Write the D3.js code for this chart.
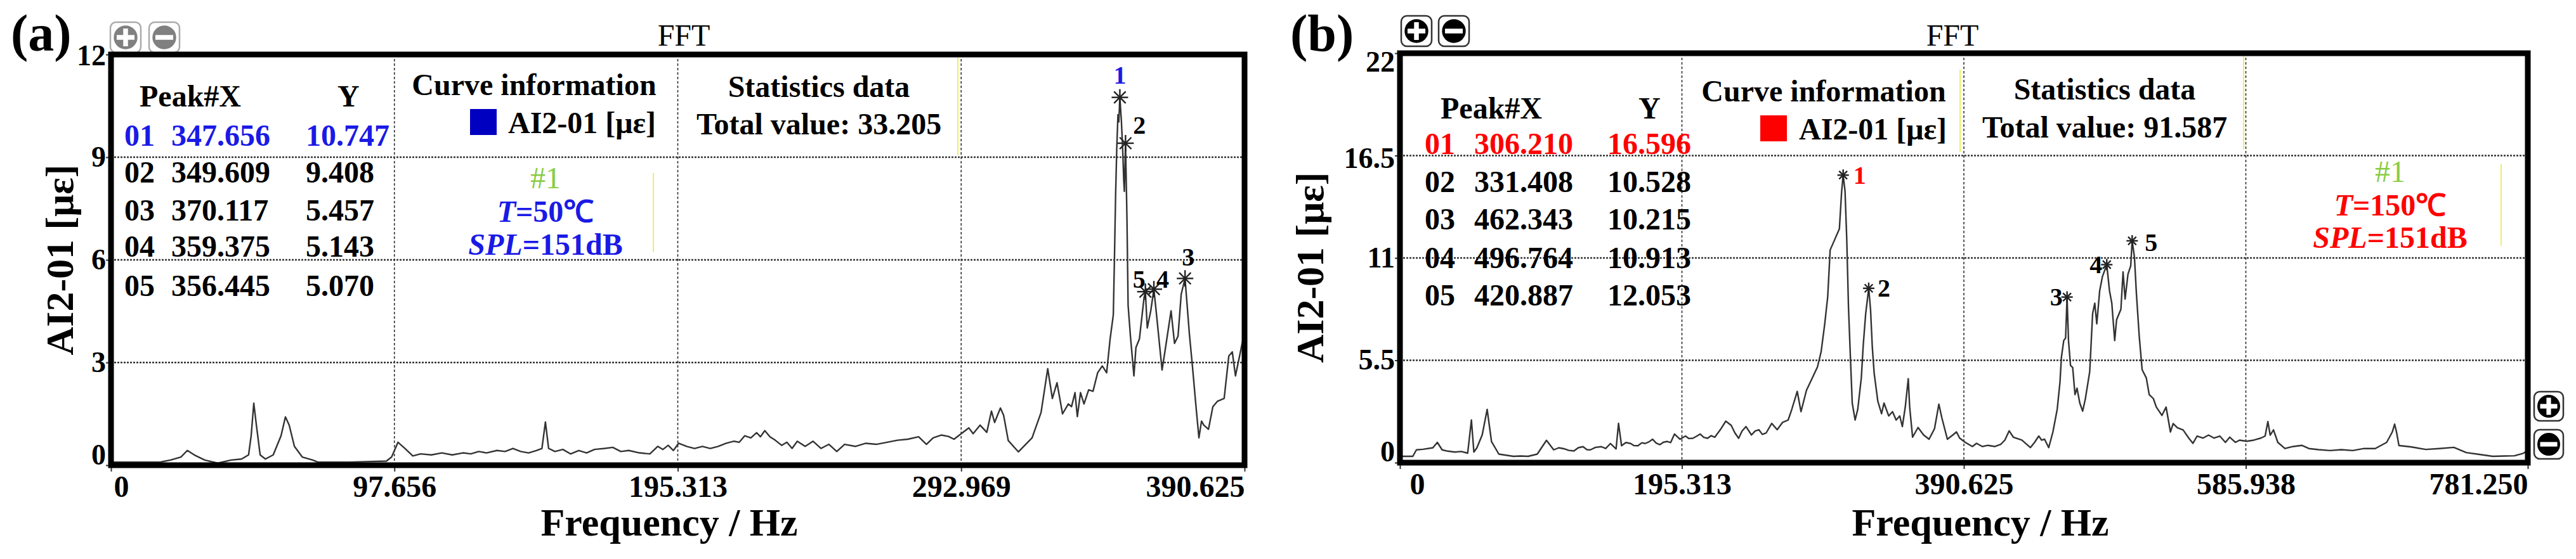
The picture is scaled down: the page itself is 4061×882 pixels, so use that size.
<!DOCTYPE html>
<html>
<head>
<meta charset="utf-8">
<script src="https://cdn.jsdelivr.net/npm/d3@7/dist/d3.min.js"></script>
<style>
  body { margin: 0; background: #fff; }
  svg text { font-family: "Liberation Serif", "Times New Roman", serif; }
</style>
</head>
<body>
<svg id="chart" width="4061" height="882"></svg>
<script>
// ---- data ----
const xTicksA = [0, 97.656, 195.313, 292.969, 390.625];
const xTicksB = [0, 195.313, 390.625, 585.938, 781.250];
const yTicksA = [0, 3, 6, 9, 12];
const yTicksB = [0, 5.5, 11, 16.5, 22];

// spectrum (a), T = 50 C : [Hz, με]
const spectrumA = [[0,0.09],[8,0.09],[16.9,0.09],[20.5,0.15],[24.1,0.24],[26.3,0.43],[28.7,0.30],[32.3,0.15],[36.8,0.06],[41.4,0.15],[45.0,0.18],[47.4,0.30],[48.3,0.86],[49.2,1.81],[50.1,1.17],[51.4,0.30],[53.2,0.18],[55.9,0.30],[58.6,0.86],[60.1,1.41],[61.4,1.17],[63.2,0.55],[65.9,0.24],[69.5,0.15],[71.3,0.09],[82.2,0.09],[94.9,0.12],[96.7,0.24],[98.9,0.67],[101.3,0.49],[104.0,0.27],[106.7,0.33],[110.4,0.30],[114.0,0.36],[117.6,0.30],[121.3,0.36],[124.0,0.33],[126.7,0.40],[129.4,0.36],[133.0,0.43],[135.8,0.40],[138.5,0.49],[141.2,0.40],[143.9,0.36],[146.6,0.43],[148.5,0.49],[149.7,1.26],[150.8,0.49],[153.0,0.40],[155.7,0.46],[158.4,0.33],[161.2,0.43],[163.9,0.36],[166.6,0.46],[170.2,0.49],[172.9,0.52],[175.7,0.40],[178.4,0.43],[182.1,0.36],[185.7,0.33],[188.4,0.55],[190.2,0.46],[192.0,0.58],[193.8,0.43],[195.6,0.64],[198.4,0.55],[201.1,0.49],[203.8,0.55],[206.5,0.49],[209.2,0.55],[212.0,0.64],[214.7,0.70],[216.5,0.67],[218.4,0.86],[220.5,0.80],[222.5,0.95],[223.8,0.83],[225.3,1.01],[227.1,0.83],[228.9,0.73],[231.1,0.58],[232.9,0.67],[234.7,0.49],[236.5,0.70],[239.2,0.55],[241.9,0.70],[244.7,0.49],[247.4,0.61],[250.1,0.40],[252.8,0.61],[256.5,0.55],[260.1,0.64],[263.7,0.61],[267.4,0.67],[271.0,0.73],[274.6,0.76],[278.3,0.83],[281.0,0.61],[283.3,0.80],[286.2,0.88],[288.6,0.84],[290.5,0.76],[293.0,0.92],[295.6,1.09],[297.1,0.92],[299.5,1.17],[301.8,0.96],[303.4,1.58],[304.5,1.25],[306.5,1.67],[307.6,1.46],[309.2,0.72],[312.7,0.39],[317.4,0.80],[320.5,1.54],[322.8,2.82],[324.4,1.95],[326.0,2.41],[327.9,1.50],[329.9,1.79],[331.0,1.71],[332.2,2.12],[333.0,1.42],[334.1,2.12],[335.3,1.79],[336.9,2.20],[338.4,2.16],[340.0,2.70],[341.6,2.90],[343.1,2.70],[343.5,3.03],[344.3,3.69],[345.4,4.39],[345.8,6.08],[346.2,7.93],[346.6,9.29],[347.0,10.24],[347.3,10.03],[347.656,10.747],[348.2,10.03],[348.6,9.29],[349.0,8.30],[349.2,8.00],[349.609,9.408],[350.1,7.23],[350.5,4.67],[351.3,3.77],[352.5,2.61],[353.2,3.44],[354.4,3.69],[356.0,4.90],[356.445,5.070],[357.1,4.01],[358.3,4.51],[359.375,5.143],[360.3,4.39],[362.2,2.78],[363.4,3.44],[365.3,4.51],[366.5,3.56],[367.7,3.77],[368.8,5.00],[370.117,5.457],[371.6,3.85],[372.7,2.86],[373.9,1.71],[374.9,0.80],[375.8,1.29],[376.6,1.17],[378.2,1.05],[379.7,1.71],[381.3,1.87],[383.6,1.95],[385.2,3.19],[386.4,3.31],[387.5,2.61],[389.1,3.27],[389.9,3.60],[390.625,3.90]];

// spectrum (b), T = 150 C : [Hz, με]
const spectrumB = [[0,0.34],[8.9,0.34],[11.4,0.69],[16.0,0.72],[22.8,0.80],[25.9,1.09],[29.2,0.69],[33.0,0.62],[38.0,0.57],[42.5,0.60],[46.9,0.51],[49.5,2.29],[51.2,0.57],[53.3,0.80],[57.0,1.50],[60.4,2.86],[63.4,1.14],[68.5,0.46],[73.5,0.40],[78.6,0.34],[83.5,0.36],[88.8,0.34],[95.1,0.46],[101.5,1.20],[106.5,0.69],[110.0,0.80],[114.1,0.74],[117.0,0.66],[120.5,0.63],[123.5,0.80],[126.8,0.86],[129.5,0.70],[131.9,0.69],[135.5,0.82],[139.5,0.86],[142.5,0.76],[145.8,1.03],[149.7,0.74],[151.4,2.11],[153.5,0.91],[156.5,1.08],[159.8,1.03],[162.0,0.92],[164.9,0.91],[167.5,1.07],[169.9,1.03],[172.5,1.12],[175.0,1.26],[177.5,1.05],[180.1,0.97],[182.5,1.10],[185.2,1.14],[187.5,1.08],[190.2,1.54],[192.0,1.40],[194.0,1.26],[197.8,1.43],[200.0,1.30],[202.9,1.31],[205.5,1.42],[208.0,1.54],[210.5,1.36],[213.1,1.31],[215.5,1.45],[218.1,1.37],[221.9,1.77],[225.7,2.23],[229.5,2.00],[232.0,1.60],[234.6,1.31],[237.0,1.70],[239.7,1.94],[243.5,1.49],[246.0,1.70],[248.6,1.77],[251.0,1.52],[253.7,1.60],[257.5,2.11],[261.3,1.77],[265.1,2.17],[268.9,2.29],[271.4,2.86],[275.2,3.83],[277.8,2.74],[281.6,3.89],[285.4,4.51],[289.2,5.14],[291.7,5.94],[294.2,7.43],[296.3,8.91],[298.0,11.43],[300.6,11.89],[304.4,12.57],[305.9,14.51],[307.0,15.45],[308.3,14.60],[309.5,12.00],[310.7,8.34],[312.0,5.71],[313.3,3.20],[315.3,2.29],[317.1,2.86],[319.6,4.57],[320.9,6.29],[322.6,8.00],[324.7,9.37],[326.0,8.20],[327.2,6.20],[328.5,4.80],[331.0,3.31],[333.6,2.63],[335.3,3.20],[338.6,2.51],[341.2,2.74],[343.7,2.29],[346.2,2.51],[348.0,1.94],[350.0,2.97],[352.1,4.51],[353.1,2.97],[355.1,1.37],[358.9,1.89],[362.7,1.49],[366.5,1.26],[370.3,1.83],[373.3,3.14],[375.4,2.40],[379.2,1.26],[383.0,1.49],[385.5,1.65],[387.7,1.32],[391.6,1.09],[396.5,0.87],[399.4,1.04],[403.4,0.87],[407.3,0.93],[412.2,0.87],[416.1,0.98],[419.0,1.21],[422.0,1.71],[424.9,1.37],[430.8,1.21],[436.7,0.81],[439.6,1.09],[442.5,1.43],[444.5,1.21],[446.5,1.26],[449.4,0.81],[452.3,1.65],[455.3,2.88],[457.2,4.33],[458.2,5.67],[459.8,6.56],[461.1,6.70],[462.1,8.90],[463.1,6.56],[464.5,5.22],[466.0,5.11],[467.6,3.66],[469.0,4.00],[470.9,3.21],[472.9,2.77],[474.8,3.44],[477.8,4.89],[479.8,8.00],[481.3,8.57],[482.7,7.46],[484.7,9.24],[486.6,10.00],[489.6,10.64],[491.5,9.24],[493.1,8.57],[495.1,6.56],[496.4,7.68],[499.4,8.24],[500.9,10.25],[502.3,8.79],[504.3,10.13],[506.2,10.58],[507.2,11.92],[508.8,11.03],[510.1,9.13],[512.1,6.79],[514.1,5.00],[517.0,4.55],[519.0,3.66],[521.9,3.44],[523.9,2.99],[527.8,2.54],[530.7,2.99],[533.7,1.65],[535.6,2.10],[538.5,1.88],[542.5,1.76],[546.4,1.32],[549.3,1.04],[552.2,1.43],[556.2,1.32],[560.1,1.48],[564.0,1.32],[567.9,1.43],[571.8,1.09],[574.8,1.37],[578.7,1.09],[581.6,1.21],[586.5,1.15],[591.4,1.21],[596.3,1.32],[599.3,1.43],[601.2,2.21],[602.8,1.48],[605.1,1.76],[608.1,1.09],[613.0,0.76],[618.8,0.87],[624.7,0.93],[629.6,0.76],[636.5,0.70],[644.3,0.65],[652.1,0.70],[660.0,0.65],[667.8,0.76],[675.6,0.76],[679.6,0.93],[683.5,1.09],[687.4,1.65],[689.0,2.07],[690.3,1.65],[692.0,0.92],[700.0,0.85],[710.6,0.71],[720.0,0.76],[730.0,0.82],[738.7,0.54],[747.0,0.45],[757.0,0.34],[765.0,0.36],[772.0,0.37],[778.0,0.50],[781.25,0.65]];

// peak tables as printed in the screenshots
const peakNo = ['01', '02', '03', '04', '05'];
const peakXA = [347.656, 349.609, 370.117, 359.375, 356.445];
const peakYA = [10.747, 9.408, 5.457, 5.143, 5.070];
const peakXB = [306.210, 331.408, 462.343, 496.764, 420.887];
const peakYB = [16.596, 10.528, 10.215, 10.913, 12.053];

// where the peak markers are drawn on the curves
const markA = [[347.656, 10.747], [349.609, 9.408], [370.117, 5.457], [359.375, 5.143], [356.445, 5.070]];
const markB = [[307.0, 15.45], [324.7, 9.37], [462.1, 8.90], [489.6, 10.64], [507.2, 11.92]];

const totalA = 33.205;
const totalB = 91.587;
const tempA = 50;
const tempB = 150;
const spl = 151;

const svg = d3.select('#chart');
const fmt3 = d3.format('.3f');

function drawIcon(g, x0, y0, w, h, plus, fill, edge) {
  g.append('rect')
    .attr('x', x0 + 2).attr('y', y0 + 2)
    .attr('width', w - 4).attr('height', h - 4)
    .attr('rx', 9)
    .attr('fill', '#fff').attr('stroke', edge).attr('stroke-width', 2.5);
  const cx = x0 + w / 2, cy = y0 + h / 2, r = w * 0.36;
  g.append('circle').attr('cx', cx).attr('cy', cy).attr('r', r).attr('fill', fill);
  g.append('rect')
    .attr('x', cx - r * 0.75).attr('y', cy - r * 0.2)
    .attr('width', r * 1.5).attr('height', r * 0.4).attr('fill', '#fff');
  if (plus) {
    g.append('rect')
      .attr('x', cx - r * 0.2).attr('y', cy - r * 0.75)
      .attr('width', r * 0.4).attr('height', r * 1.5).attr('fill', '#fff');
  }
}

function drawStar(g, cx, cy, r) {
  [0, 45, 90, 135].forEach(a => {
    const t = a * Math.PI / 180;
    g.append('line')
      .attr('x1', cx - r * Math.cos(t)).attr('y1', cy - r * Math.sin(t))
      .attr('x2', cx + r * Math.cos(t)).attr('y2', cy + r * Math.sin(t))
      .attr('stroke', '#222').attr('stroke-width', 2.4);
  });
}

function drawPanel(p) {
  const g = svg.append('g');
  const x = d3.scaleLinear().domain([0, p.xTicks[p.xTicks.length - 1]]).range([p.left, p.right]);
  const y = d3.scaleLinear().domain([0, p.yTicks[p.yTicks.length - 1]]).range([p.bottom, p.top]);

  // header: panel tag, zoom buttons, FFT title
  g.append('text').attr('x', p.tagX).attr('y', 80)
    .attr('font-size', 82).attr('font-weight', 'bold').text(p.tag);
  p.iconsX.forEach((ix, i) => drawIcon(g, ix, p.iconsY, 52, 52, i === 0, p.iconFill, p.iconEdge));
  if (p.sideIcons) {
    drawIcon(g, p.sideIcons[0], p.sideIcons[1], 50, 50, true, p.iconFill, p.iconEdge);
    drawIcon(g, p.sideIcons[0], p.sideIcons[1] + 60, 50, 50, false, p.iconFill, p.iconEdge);
  }
  g.append('text').attr('x', p.fftX).attr('y', 72)
    .attr('text-anchor', 'middle').attr('font-size', 48).text('FFT');

  // grid
  g.selectAll('.vgrid').data(p.xTicks.slice(1, -1)).enter().append('line')
    .attr('x1', d => x(d)).attr('x2', d => x(d))
    .attr('y1', p.top).attr('y2', p.bottom)
    .attr('stroke', '#333').attr('stroke-width', 1.6).attr('stroke-dasharray', '4,3');
  g.selectAll('.hgrid').data(p.yTicks.slice(1, -1)).enter().append('line')
    .attr('x1', p.left).attr('x2', p.right)
    .attr('y1', d => y(d)).attr('y2', d => y(d))
    .attr('stroke', '#333').attr('stroke-width', 2.6).attr('stroke-dasharray', '3,2');
  p.yellow.forEach(l => {
    g.append('line').attr('x1', l[0]).attr('x2', l[0]).attr('y1', l[1]).attr('y2', l[2])
      .attr('stroke', '#eeee66').attr('stroke-width', 2);
  });

  // axes
  const xAxis = g.append('g')
    .attr('transform', `translate(0,${p.bottom})`)
    .call(d3.axisBottom(x).tickValues(p.xTicks)
      .tickFormat(d => d === 0 ? '0' : fmt3(d)).tickSize(10).tickPadding(6).tickSizeOuter(0));
  xAxis.select('.domain').remove();
  xAxis.selectAll('line').attr('stroke', '#333').attr('stroke-width', 2);
  xAxis.selectAll('text')
    .attr('font-size', 48).attr('font-weight', 'bold').attr('fill', '#000')
    .attr('font-family', '"Liberation Serif", serif')
    .attr('text-anchor', (d, i) => i === 0 ? 'start' : (i === p.xTicks.length - 1 ? 'end' : 'middle'))
    .attr('x', (d, i) => i === 0 ? p.zeroDx : 0);

  const yAxis = g.append('g')
    .attr('transform', `translate(${p.left},0)`)
    .call(d3.axisLeft(y).tickValues(p.yTicks).tickFormat(d => String(d)).tickSize(8).tickPadding(0).tickSizeOuter(0));
  yAxis.select('.domain').remove();
  yAxis.selectAll('line').attr('stroke', '#333').attr('stroke-width', 2);
  yAxis.selectAll('text')
    .attr('font-size', 46).attr('font-weight', 'bold').attr('fill', '#000')
    .attr('font-family', '"Liberation Serif", serif')
    .attr('y', (d, i) => p.yNudge[i]);

  g.append('text').attr('x', p.titleX).attr('y', 845)
    .attr('text-anchor', 'middle').attr('font-size', 62).attr('font-weight', 'bold')
    .text('Frequency / Hz');
  g.append('text')
    .attr('transform', `translate(${p.ylabelX},${p.ylabelY}) rotate(-90)`)
    .attr('text-anchor', 'middle').attr('font-size', 62).attr('font-weight', 'bold')
    .text('AI2-01 [με]');

  // peak table
  const t = g.append('g').attr('font-size', 48).attr('font-weight', 'bold');
  t.append('text').attr('x', p.tab.head[0]).attr('y', p.tab.headY).text('Peak#X');
  t.append('text').attr('x', p.tab.head[1]).attr('y', p.tab.headY).text('Y');
  p.peakX.forEach((v, i) => {
    const c = i === 0 ? p.accent : '#000';
    t.append('text').attr('x', p.tab.cols[0]).attr('y', p.tab.rows[i]).attr('fill', c).text(peakNo[i]);
    t.append('text').attr('x', p.tab.cols[1]).attr('y', p.tab.rows[i]).attr('fill', c).text(fmt3(v));
    t.append('text').attr('x', p.tab.cols[2]).attr('y', p.tab.rows[i]).attr('fill', c).text(fmt3(p.peakY[i]));
  });

  // curve information + statistics
  t.append('text').attr('x', p.info.cx).attr('y', p.info.b1).attr('text-anchor', 'middle').text('Curve information');
  t.append('rect').attr('x', p.info.sq[0]).attr('y', p.info.sq[1]).attr('width', 42).attr('height', 41).attr('fill', p.square);
  t.append('text').attr('x', p.info.lx).attr('y', p.info.b2).text('AI2-01 [με]');
  t.append('text').attr('x', p.stats.cx).attr('y', p.stats.b1).attr('text-anchor', 'middle').text('Statistics data');
  t.append('text').attr('x', p.stats.cx).attr('y', p.stats.b2).attr('text-anchor', 'middle').text('Total value: ' + fmt3(p.total));

  // condition note
  t.append('text').attr('x', p.note.cx).attr('y', p.note.b[0]).attr('text-anchor', 'middle')
    .attr('font-weight', 'normal').attr('fill', '#88cc44').text('#1');
  const tt = t.append('text').attr('x', p.note.cx).attr('y', p.note.b[1]).attr('text-anchor', 'middle').attr('fill', p.accent);
  tt.append('tspan').attr('font-style', 'italic').text('T');
  tt.append('tspan').text('=' + p.temp + '\u2103');
  const ts = t.append('text').attr('x', p.note.cx).attr('y', p.note.b[2]).attr('text-anchor', 'middle').attr('fill', p.accent);
  ts.append('tspan').attr('font-style', 'italic').text('SPL');
  ts.append('tspan').text('=' + spl + 'dB');

  // spectrum line
  const line = d3.line().x(d => x(d[0])).y(d => y(d[1]));
  g.append('path').datum(p.spectrum)
    .attr('d', line)
    .attr('fill', 'none').attr('stroke', '#333').attr('stroke-width', 2.4)
    .attr('stroke-linejoin', 'round');

  // frame
  g.append('rect')
    .attr('x', p.left).attr('y', p.top)
    .attr('width', p.right - p.left).attr('height', p.bottom - p.top)
    .attr('fill', 'none').attr('stroke', '#000').attr('stroke-width', 9);

  // peak markers and numbers
  p.marks.forEach((m, i) => {
    const cx = x(m[0]), cy = y(m[1]);
    drawStar(g, cx, cy, p.starR);
    const o = p.labelOff[i];
    g.append('text').attr('x', cx + o[0]).attr('y', cy + o[1])
      .attr('text-anchor', o[2]).attr('font-size', 40).attr('font-weight', 'bold')
      .attr('fill', i === 0 ? p.accent : '#000')
      .text(i + 1);
  });
}

drawPanel({
  tag: '(a)', tagX: 17, fftX: 1078,
  left: 175, right: 1962, top: 86, bottom: 734,
  xTicks: xTicksA, yTicks: yTicksA, yNudge: [-16, 0, 0, 0, 2], zeroDx: 4,
  iconsX: [172, 233], iconsY: 33, iconFill: '#808080', iconEdge: '#aaaaaa',
  titleX: 1055, ylabelX: 115, ylabelY: 410,
  accent: '#1a1ae6', square: '#0000c0',
  spectrum: spectrumA, peakX: peakXA, peakY: peakYA, total: totalA, temp: tempA,
  tab: { head: [220, 532], headY: 168, rows: [230, 288, 348, 405, 467], cols: [196, 270, 482] },
  info: { cx: 842, b1: 150, sq: [741, 172], lx: 801, b2: 210 },
  stats: { cx: 1291, b1: 153, b2: 212 },
  note: { cx: 860, b: [297, 350, 402] },
  yellow: [[1030, 273, 398], [1510, 90, 245]],
  marks: markA, starR: 13,
  labelOff: [[0, -22, 'middle'], [12, -15, 'start'], [5, -20, 'middle'], [4, -2, 'start'], [0, -6, 'end']]
});

drawPanel({
  tag: '(b)', tagX: 2034, fftX: 3078,
  left: 2207, right: 3985, top: 84, bottom: 730,
  xTicks: xTicksB, yTicks: yTicksB, yNudge: [-17, -1, 0, 4, 14], zeroDx: 15,
  iconsX: [2207, 2266], iconsY: 23, iconFill: '#000', iconEdge: '#333',
  sideIcons: [3993, 616],
  titleX: 3122, ylabelX: 2086, ylabelY: 422,
  accent: '#ff0000', square: '#ff0000',
  spectrum: spectrumB, peakX: peakXB, peakY: peakYB, total: totalB, temp: tempB,
  tab: { head: [2271, 2583], headY: 187, rows: [243, 303, 362, 423, 482], cols: [2246, 2324, 2534] },
  info: { cx: 2875, b1: 160, sq: [2775, 182], lx: 2836, b2: 220 },
  stats: { cx: 3318, b1: 157, b2: 217 },
  note: { cx: 3768, b: [287, 340, 391] },
  yellow: [[3090, 110, 240], [3537, 86, 236], [3943, 259, 388]],
  marks: markB, starR: 9,
  labelOff: [[16, 14, 'start'], [14, 13, 'start'], [-7, 13, 'end'], [-7, 13, 'end'], [20, 16, 'start']]
});
</script>
</body>
</html>
